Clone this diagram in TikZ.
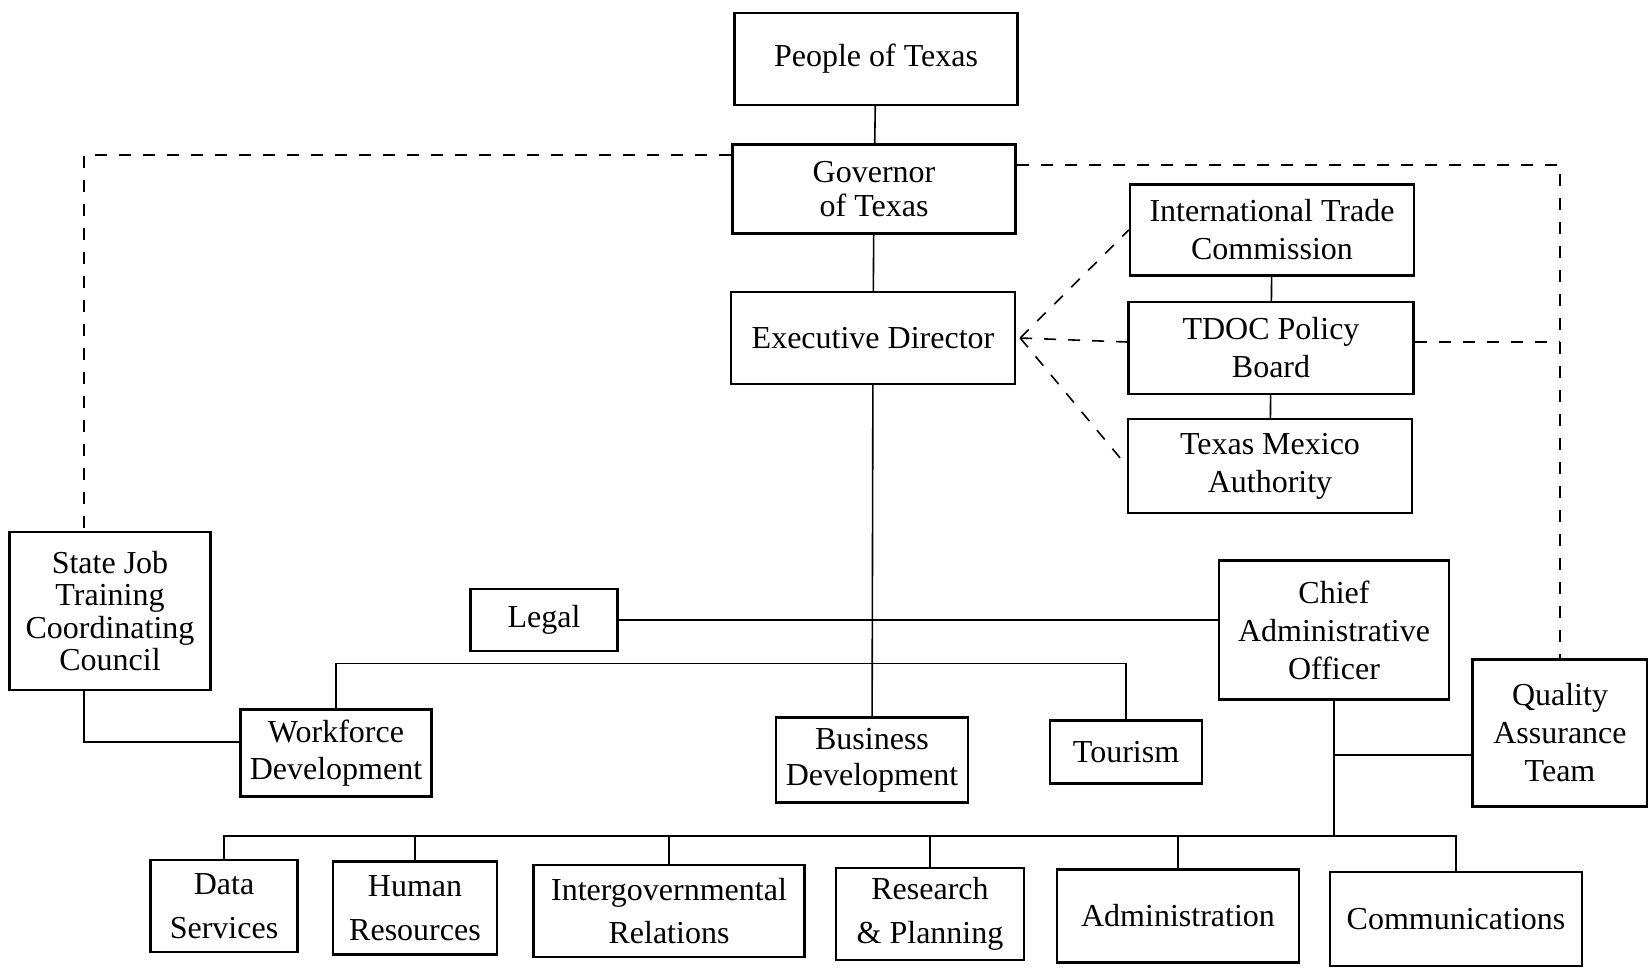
\documentclass[tikz,border=0pt]{standalone}
\usepackage{fontspec}
\setmainfont{Liberation Serif}
\usepackage{tikz}

\begin{document}
\begin{tikzpicture}[x=0.5pt, y=-0.5pt,
    unit/.style={draw, line width=1.2pt, inner sep=0pt, align=center, font=\fontsize{16}{19}\selectfont},
    link/.style={line width=0.8pt},
    advisory/.style={link, dash pattern=on 6pt off 6pt}]
  \useasboundingbox (0,0) rectangle (1648,971);
  % top of the chain
  \node[unit, minimum width=141.5pt, minimum height=46pt] (people) at (876,59) {People of Texas};
  \node[unit, minimum width=141.5pt, minimum height=44.5pt, font=\fontsize{16}{17.4}\selectfont] (governor) at (874,189) {Governor\\of Texas};
  \node[unit, minimum width=142pt, minimum height=46pt] (execdir) at (873,338) {Executive Director};
  % boards beside the director
  \node[unit, minimum width=142pt, minimum height=45.5pt] (itc) at (1272,230) {International Trade\\Commission};
  \node[unit, minimum width=142.5pt, minimum height=46pt] (tdoc) at (1271,348) {TDOC Policy\\Board};
  \node[unit, minimum width=142pt, minimum height=47pt] (tma) at (1270,466) {Texas Mexico\\Authority};
  % middle row
  \node[unit, minimum width=100.5pt, minimum height=79pt, font=\fontsize{16}{16.3}\selectfont] (sjtcc) at (110,611) {State Job\\Training\\Coordinating\\Council};
  \node[unit, minimum width=73.5pt, minimum height=31pt] (legal) at (544,620) {Legal};
  \node[unit, minimum width=115pt, minimum height=69.5pt] (cao) at (1334,630) {Chief\\Administrative\\Officer};
  \node[unit, minimum width=87.5pt, minimum height=73.5pt] (qat) at (1560,733) {Quality\\Assurance\\Team};
  \node[unit, minimum width=95.5pt, minimum height=43.5pt, font=\fontsize{16}{18.4}\selectfont] (workforce) at (336,753) {Workforce\\Development};
  \node[unit, minimum width=96pt, minimum height=42.5pt, font=\fontsize{16}{18}\selectfont] (business) at (872,760) {Business\\Development};
  \node[unit, minimum width=76pt, minimum height=31.5pt] (tourism) at (1126,752) {Tourism};
  % bottom row
  \node[unit, minimum width=73.5pt, minimum height=46pt, font=\fontsize{16}{22}\selectfont] (data) at (224,906) {Data\\Services};
  \node[unit, minimum width=82pt, minimum height=46.5pt, font=\fontsize{16}{22}\selectfont] (human) at (415,908) {Human\\Resources};
  \node[unit, minimum width=135.5pt, minimum height=46pt, font=\fontsize{16}{21.5}\selectfont] (intergov) at (669,911) {Intergovernmental\\Relations};
  \node[unit, minimum width=94pt, minimum height=46pt, font=\fontsize{16}{22}\selectfont] (research) at (930,914) {Research\\\& Planning};
  \node[unit, minimum width=121pt, minimum height=46.5pt] (admin) at (1178,916) {Administration};
  \node[unit, minimum width=126pt, minimum height=47pt] (comm) at (1456,919) {Communications};

  % solid lines
  \draw[link] (people) -- (governor);
  \draw[link] (governor) -- (execdir);
  \draw[link] (execdir) -- (business);
  \draw[link] (itc) -- (tdoc);
  \draw[link] (tdoc) -- (tma);
  \draw[link] (legal.east) -- (legal.east -| cao.west);
  \draw[link] (workforce.north) -- ++(0,-45) -| (tourism.north);
  \draw[link] ([xshift=-13pt]sjtcc.south) |- ([yshift=5.5pt]workforce.west);
  \coordinate (qa-tap) at (1334,755);
  \draw[link] (qa-tap) -- (qa-tap -| qat.west);
  \coordinate (bus) at (0,836);
  \draw[link] (cao.south) -- (cao.south |- bus);
  \draw[link] (data.north) |- (bus -| comm.north) -- (comm.north);
  \foreach \n in {human, intergov, research, admin}
    \draw[link] (\n.north) -- (\n.north |- bus);

  % dashed lines
  \draw[advisory] ([yshift=17pt]governor.west) -| ([xshift=-13pt]sjtcc.north);
  \draw[advisory] ([yshift=12pt]governor.east) -| (qat.north);
  \draw[advisory] ([xshift=2pt]execdir.east) -- (itc.west);
  \draw[advisory] ([xshift=2pt]execdir.east) -- ([yshift=3pt]tdoc.west);
  \draw[advisory] ([xshift=2pt]execdir.east) -- (tma.west);
  \draw[advisory] ([yshift=3pt]tdoc.east) -- ([yshift=3pt]tdoc.east -| qat.north);
\end{tikzpicture}
\end{document}
